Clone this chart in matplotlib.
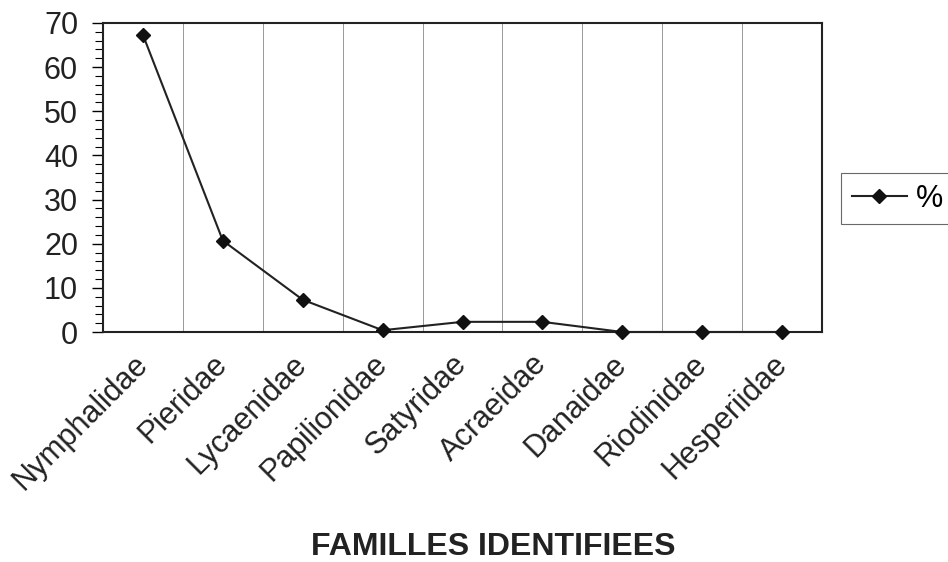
import matplotlib
matplotlib.use("Agg")
import matplotlib.pyplot as plt
from matplotlib.ticker import MultipleLocator, FixedLocator

families = ["Nymphalidae", "Pieridae", "Lycaenidae", "Papilionidae", "Satyridae",
            "Acraeidae", "Danaidae", "Riodinidae", "Hesperiidae"]
percent = [67.3, 20.7, 7.3, 0.4, 2.3, 2.3, 0.0, 0.0, 0.0]
series_label = "%"
x_title = "FAMILLES IDENTIFIEES"

plt.rcParams['font.family'] = ['Liberation Sans', 'DejaVu Sans']

fig = plt.figure(figsize=(9.48, 5.62), dpi=100)
ax = fig.add_axes([103/948, 1 - 332/562, (822 - 103)/948, (332 - 23)/562])

x = list(range(len(families)))
line, = ax.plot(x, percent, color='#222222', lw=1.5, marker='D', markersize=7.5,
                markerfacecolor='#111111', markeredgecolor='#111111', label=series_label,
                clip_on=False, zorder=3)

ax.set_xlim(-0.5, len(families) - 0.5)
ax.set_ylim(0, 70)
ax.yaxis.set_major_locator(MultipleLocator(10))
ax.yaxis.set_minor_locator(MultipleLocator(2))
ax.set_xticks(x)
ax.set_xticklabels(families, rotation=45, ha='right', va='center', rotation_mode='anchor',
                   fontsize=22, color='#222222')
ax.xaxis.set_minor_locator(FixedLocator([i + 0.5 for i in range(len(families) - 1)]))
ax.grid(True, which='minor', axis='x', color='#999999', lw=0.7)
ax.tick_params(axis='x', which='both', length=0, pad=20)
ax.tick_params(axis='y', which='major', length=8, width=1, labelsize=22, labelcolor='#222222', pad=10)
ax.tick_params(axis='y', which='minor', length=6, width=0.8)
for s in ax.spines.values():
    s.set_linewidth(1.5)
    s.set_color('#222222')

fig.text(493/948, 1 - 547/562, x_title, ha='center', va='center', fontsize=23,
         fontweight='bold', color='#222222')

leg = fig.legend(handles=[line], loc='upper left', bbox_to_anchor=(841/948, 1 - 173/562),
                 fontsize=22, frameon=True, fancybox=False, edgecolor='#444444',
                 handlelength=1.8, borderpad=0.35, handletextpad=0.3, borderaxespad=0)
leg.get_frame().set_linewidth(0.8)

fig.savefig("out.png", dpi=100)
